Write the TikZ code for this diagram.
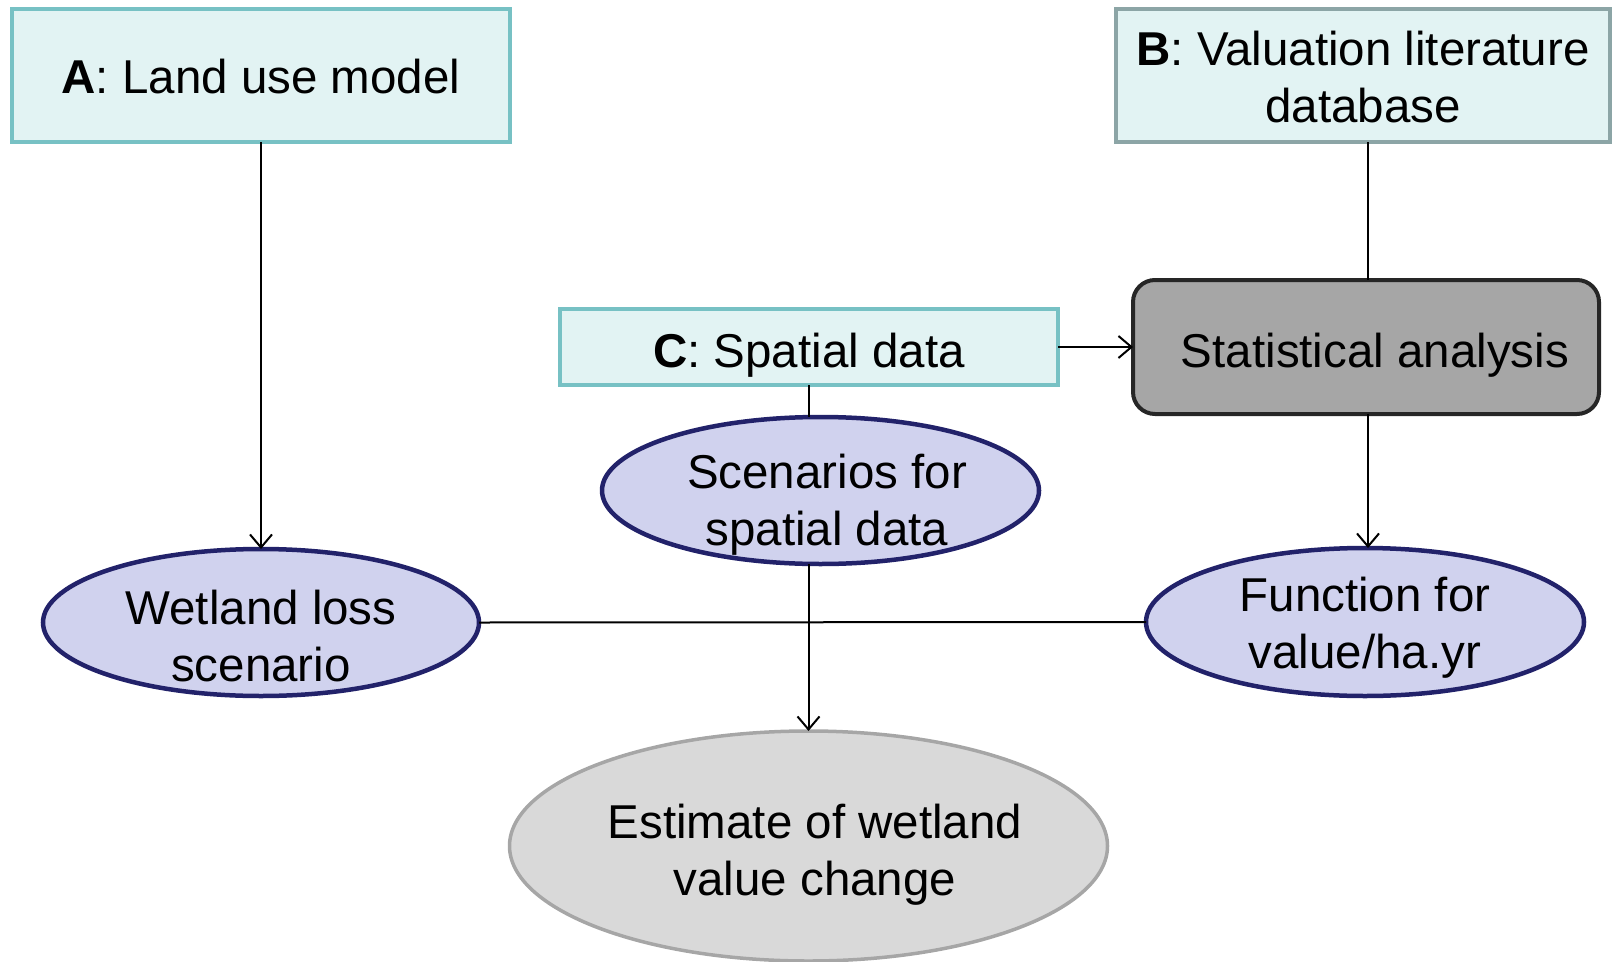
\documentclass[tikz,border=0pt]{standalone}
\usepackage{fontspec}
\setmainfont{Liberation Sans}
\usetikzlibrary{shapes.geometric,arrows.meta}
\definecolor{boxfill}{HTML}{E2F3F3}
\definecolor{boxline}{HTML}{77C1C4}
\definecolor{boxlineB}{HTML}{8CA5A6}
\definecolor{ellfill}{HTML}{D0D2EE}
\definecolor{ellline}{HTML}{22226A}
\definecolor{statfill}{HTML}{A6A6A6}
\definecolor{statline}{HTML}{262626}
\definecolor{estfill}{HTML}{D9D9D9}
\definecolor{estline}{HTML}{A6A6A6}
\begin{document}
\begin{tikzpicture}[x=1pt,y=-1pt,
  every node/.style={inner sep=0pt,outer sep=0pt},
  srcbox/.style={rectangle,draw=boxline,fill=boxfill,line width=4pt},
  ell/.style={ellipse,draw=ellline,fill=ellfill,line width=4.5pt},
  txt/.style={anchor=base,font=\fontsize{47.5}{57}\selectfont},
  conn/.style={line width=2pt,black},
  arr/.style={conn,-{Straight Barb[length=13pt,width=22pt,line width=2pt]}}
]
\useasboundingbox (0,0) rectangle (1614,961);

% shapes
\node[srcbox,minimum width=498pt,minimum height=133pt] (A) at (261,75.5) {};
\node[srcbox,draw=boxlineB,minimum width=494pt,minimum height=133pt] (B) at (1363,75.5) {};
\node[srcbox,minimum width=498pt,minimum height=76pt] (C) at (809,347) {};
\node[rectangle,rounded corners=22pt,draw=statline,fill=statfill,line width=4pt,
      minimum width=466pt,minimum height=134pt] (Stat) at (1366,347) {};
\node[ell,minimum width=437pt,minimum height=147pt] (Scen) at (820.5,490.5) {};
\node[ell,minimum width=436pt,minimum height=147pt] (Wet) at (261,622.5) {};
\node[ell,minimum width=438pt,minimum height=148pt] (Func) at (1365,622) {};
\node[ellipse,draw=estline,fill=estfill,line width=3.5pt,
      minimum width=598pt,minimum height=230pt] (Est) at (808.5,846) {};

% texts
\node[txt] (At) at (261,93) {\textbf{A}: Land use model};
\node[txt] (Bt) at (1363,65) {\begin{tabular}[t]{@{}c@{}}\textbf{B}: Valuation literature\\ database\end{tabular}};
\node[txt] (Ct) at (809,367) {\textbf{C}: Spatial data};
\node[txt] (Statt) at (1375,367) {Statistical analysis};
\node[txt] (Scent) at (827,488) {\begin{tabular}[t]{@{}c@{}}Scenarios for\\ spatial data\end{tabular}};
\node[txt] (Wett) at (261,624) {\begin{tabular}[t]{@{}c@{}}Wetland loss\\ scenario\end{tabular}};
\node[txt] (Funct) at (1365,611) {\begin{tabular}[t]{@{}c@{}}Function for\\ value/ha.yr\end{tabular}};
\node[txt] (Estt) at (815,838) {\begin{tabular}[t]{@{}c@{}}Estimate of wetland\\ value change\end{tabular}};

% connectors
\draw[arr] (A.south) -- (Wet.north);
\draw[conn] ([xshift=2pt]Stat.north |- B.south) -- ([xshift=2pt]Stat.north);
\draw[arr] (C.east) -- (Stat.west);
\draw[arr] ([xshift=2pt]Stat.south) -- ([xshift=2pt]Stat.south |- Func.north);
\draw[conn] (C.south) -- (C.south |- Scen.north);
\draw[arr] (Scen.south -| Est.north) -- (Est.north);
\draw[conn] (Wet.east) -- (Func.west);
\end{tikzpicture}
\end{document}
